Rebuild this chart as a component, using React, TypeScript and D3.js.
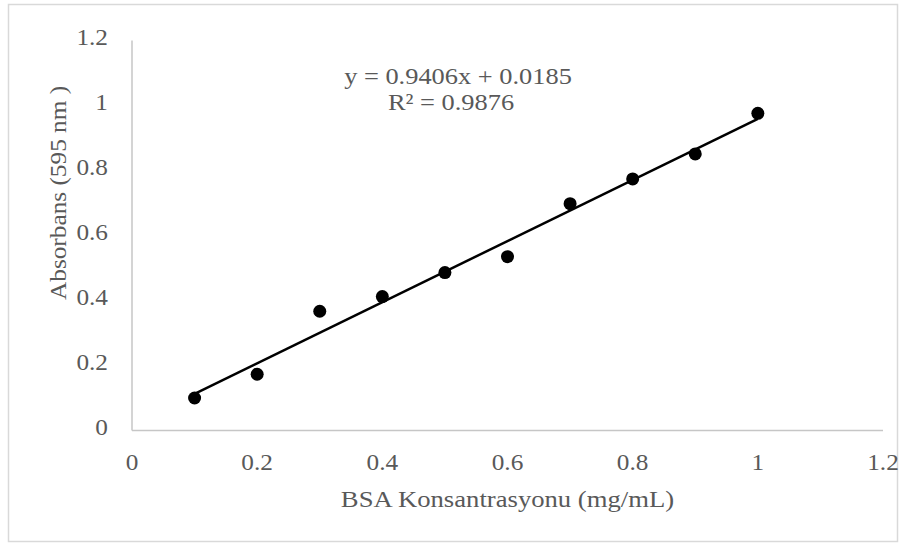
import React from "react";
import * as d3 from "d3";

// BSA standard curve readings
const concentrations = [0.1, 0.2, 0.3, 0.4, 0.5, 0.6, 0.7, 0.8, 0.9, 1.0];
const absorbances = [0.1, 0.173, 0.367, 0.412, 0.486, 0.535, 0.698, 0.774, 0.851, 0.976];
const xTicks = [0, 0.2, 0.4, 0.6, 0.8, 1, 1.2];
const yTicks = [0, 0.2, 0.4, 0.6, 0.8, 1, 1.2];
const slope = 0.9406;
const intercept = 0.0185;
const equationLines = ["y = 0.9406x + 0.0185", "R² = 0.9876"];

const width = 904;
const height = 544;
const margin = { top: 40.5, right: 21, bottom: 113.5, left: 132 };

const textColor = "#595959";
const fontFamily = "'Liberation Serif', 'Times New Roman', serif";
const stretch = 1.1;

const App = () => {
  const xScale = d3
    .scaleLinear()
    .domain([0, 1.2])
    .range([margin.left, width - margin.right]);

  const yScale = d3
    .scaleLinear()
    .domain([0, 1.2])
    .range([height - margin.bottom, margin.top]);

  const xMin = d3.min(concentrations) as number;
  const xMax = d3.max(concentrations) as number;
  const trend = d3.line<number>()
    .x((d) => xScale(d))
    .y((d) => yScale(slope * d + intercept))([xMin, xMax]);

  const fmt = (d: number) => String(d);

  return (
    <svg
      width={width}
      height={height}
      style={{ position: "absolute", left: 0, top: 0, background: "#fff" }}
      fontFamily={fontFamily}
    >
      {/* chart border */}
      <rect x={8.5} y={4.5} width={889} height={537} fill="#fff" stroke="#d9d9d9" strokeWidth={1.5} />

      {/* axes */}
      <line
        x1={xScale(0)}
        x2={xScale(0)}
        y1={yScale(1.2)}
        y2={yScale(0)}
        stroke="#c6c6c6"
        strokeWidth={1.5}
      />
      <line
        x1={xScale(0)}
        x2={xScale(1.2)}
        y1={yScale(0)}
        y2={yScale(0)}
        stroke="#c6c6c6"
        strokeWidth={1.5}
      />

      {/* y tick labels */}
      {yTicks.map((t) => (
        <text
          key={"y" + t}
          transform={`translate(${xScale(0) - 24},${yScale(t) + 4.5}) scale(${stretch},1)`}
          textAnchor="end"
          fontSize={23}
          fill={textColor}
        >
          {fmt(t)}
        </text>
      ))}

      {/* x tick labels */}
      {xTicks.map((t) => (
        <text
          key={"x" + t}
          transform={`translate(${xScale(t)},${yScale(0) + 39}) scale(${stretch},1)`}
          textAnchor="middle"
          fontSize={23}
          fill={textColor}
        >
          {fmt(t)}
        </text>
      ))}

      {/* axis titles */}
      <text
        transform={`translate(${(xScale(0) + xScale(1.2)) / 2},507) scale(1.16,1)`}
        textAnchor="middle"
        fontSize={23}
        fill={textColor}
      >
        BSA Konsantrasyonu (mg/mL)
      </text>
      <text
        transform={`translate(66,300) rotate(-90) scale(${stretch},1)`}
        textAnchor="start"
        fontSize={23}
        fill={textColor}
      >
        Absorbans (595 nm )
      </text>

      {/* trendline */}
      <path d={trend || ""} fill="none" stroke="#000" strokeWidth={2.5} />

      {/* markers */}
      {concentrations.map((c, i) => (
        <circle key={c} cx={xScale(c)} cy={yScale(absorbances[i])} r={6.5} fill="#000" />
      ))}

      {/* equation label */}
      <text
        transform={`translate(458,84) scale(${stretch},1)`}
        textAnchor="middle"
        fontSize={24}
        fill={textColor}
      >
        {equationLines[0]}
      </text>
      <text
        transform={`translate(451,110) scale(${stretch},1)`}
        textAnchor="middle"
        fontSize={24}
        fill={textColor}
      >
        {equationLines[1]}
      </text>
    </svg>
  );
};

export default App;
